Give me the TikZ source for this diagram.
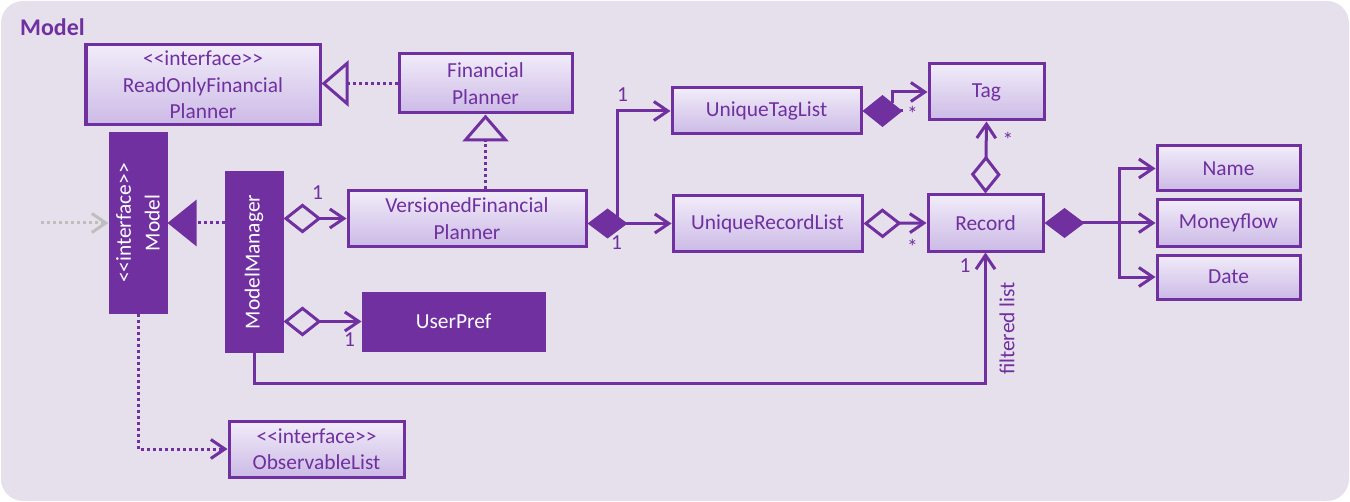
\documentclass[tikz,border=0pt]{standalone}
\usepackage{fontspec}
\setmainfont{Carlito}[Ligatures=TeXOff]
\usepackage{tikz}
\usetikzlibrary{arrows.meta, positioning, calc}
\definecolor{umlpurple}{RGB}{112,48,160}
\definecolor{panel}{RGB}{230,224,236}
\definecolor{boxtop}{RGB}{241,236,249}
\definecolor{boxbottom}{RGB}{204,186,230}
\definecolor{incoming}{RGB}{190,190,190}
\tikzset{
    umlclass/.style = {
        draw           = umlpurple,
        line width     = 3bp,
        top color      = boxtop,
        bottom color   = boxbottom,
        text           = umlpurple,
        align          = center,
        inner sep      = 0pt,
        font           = \fontsize{21.5}{26.5}\selectfont,
    },
    umldark/.style = {
        draw           = umlpurple,
        fill           = umlpurple,
        line width     = 3bp,
        inner sep      = 0pt,
    },
    darktext/.style = {
        text           = white,
        align          = center,
        inner sep      = 0pt,
        font           = \fontsize{21.5}{29}\selectfont,
    },
    mult/.style = {
        text           = umlpurple,
        inner sep      = 0pt,
        font           = \fontsize{21.5}{26.5}\selectfont,
    },
    link/.style    = {draw = umlpurple, line width = 3bp},
    realize/.style = {dash pattern = on 3bp off 3bp},
    barb/.style    = {arrows = {-Straight Barb[length=14bp, width=19bp]}},
    hasa/.style    = {arrows = {Diamond[open, length=38bp, width=30bp]-Straight Barb[length=14bp, width=19bp]}},
    owns/.style    = {arrows = {Diamond[length=40bp, width=30bp]-Straight Barb[length=14bp, width=19bp]}},
}

\begin{document}
\begin{tikzpicture}[x=1bp, y=-1bp]
    \useasboundingbox (0,0) rectangle (1350,502);
    \fill [panel, rounded corners=22bp] (1,1) rectangle (1349,501);
    \node (title) [anchor=west, text=umlpurple, inner sep=0pt, font=\bfseries\fontsize{24}{28}\selectfont] at (20,27) {Model};

    % classes
    \node (RO) [umlclass, minimum width=234bp, minimum height=80bp] at (203,85) {<<interface>>\\ReadOnlyFinancial\\Planner};
    \node (FP) [umlclass, minimum width=173bp, minimum height=59bp] at (485.5,83.5) {Financial\\Planner};
    \node (VFP) [umlclass, minimum width=238bp, minimum height=55bp] at (467,218.5) {VersionedFinancial\\Planner};
    \node (Model) [umldark, minimum width=56bp, minimum height=178bp,
        label={[darktext, rotate=90]center:{<<interface>>\\Model}}] at (138,223) {};
    \node (MM) [umldark, minimum width=56bp, minimum height=178bp,
        label={[darktext, rotate=90]center:ModelManager}] at (254,262) {};
    \node (UP) [umldark, minimum width=181bp, minimum height=57bp, text=white,
        font=\fontsize{21.5}{26.5}\selectfont] at (453.5,321.5) {UserPref};
    \node (OL) [umlclass, minimum width=175bp, minimum height=56bp] at (316.5,449) {<<interface>>\\ObservableList};
    \node (UTL) [umlclass, minimum width=189bp, minimum height=46bp] at (766.5,111) {UniqueTagList};
    \node (URL) [umlclass, minimum width=189bp, minimum height=55bp] at (767.5,223.5) {UniqueRecordList};
    \node (Tag) [umlclass, minimum width=115bp, minimum height=56bp] at (986.5,92) {Tag};
    \node (Record) [umlclass, minimum width=115bp, minimum height=56bp] at (985.5,223) {Record};
    \node (Money) [umlclass, minimum width=143bp, minimum height=46bp] at (1228.5,223) {Moneyflow};
    \node (Name) [umlclass, minimum width=143bp, minimum height=45bp, above=6bp of Money] {Name};
    \node (Date) [umlclass, minimum width=143bp, minimum height=44bp, below=6bp of Money] {Date};

    % free ends
    \coordinate (entry) at (41,223);
    \coordinate (split) at ($(VFP.east |- URL.west)+(30,0)$);
    \coordinate (tagsplit) at ($(UTL.east)+(40,0)$);
    \coordinate (fieldsplit) at ($(Record.east)+(75,0)$);

    % realizations
    \draw [link, realize, arrows={-Triangle[open, length=27bp, width=46bp]}] (FP.west) -- (FP.west -| RO.east);
    \draw [link, realize, arrows={-Triangle[open, length=27bp, width=46bp]}] (VFP.north -| FP.south) -- (FP.south);
    \draw [link, realize, arrows={-Triangle[length=29bp, width=46bp]}] (MM.west |- Model.east) -- (Model.east);
    \draw [incoming, line width=3bp, realize, barb] (entry) -- (Model.west);
    \draw [link, realize, barb] (Model.south) |- (OL.west);

    % associations
    \draw [link, hasa] (MM.east |- VFP.west) -- (VFP.west);
    \draw [link, hasa] (MM.east |- UP.west) -- (UP.west);
    \draw [link, barb] (MM.south) -- ++(0,31) -| (Record.south);
    \draw [link, barb] (split) |- (UTL.west);
    \draw [link, owns] (VFP.east |- URL.west) -- (URL.west);
    \draw [link, arrows={-Diamond[length=40bp, width=32bp]}] (tagsplit) -- (UTL.east);
    \draw [link, barb] ($(UTL.east)+(30,-8)$) |- (Tag.west);
    \draw [link, hasa] (URL.east) -- (Record.west);
    \draw [link, hasa] (Record.north) -- (Tag.south);
    \draw [link, owns] (Record.east) -- (Money.west);
    \draw [link, barb] (fieldsplit) |- (Name.west);
    \draw [link, barb] (fieldsplit) |- (Date.west);

    % multiplicities
    \node (mVFP) [mult] at ($(VFP.west)+(-29,-26)$) {1};
    \node (mUTL) [mult] at ($(UTL.west)+(-48,-16)$) {1};
    \node (mURL) [mult] at ($(URL.west)+(-55,19)$) {1};
    \node (mTag) [mult] at ($(Tag.west)+(-15,22)$) {*};
    \node (mTagb) [mult] at ($(Tag.south)+(21.5,18)$) {*};
    \node (mRec) [mult] at ($(Record.west)+(-14,24)$) {*};
    \node (mRecb) [mult] at ($(Record.south)+(-20.5,13)$) {1};
    \node (mUP) [mult] at ($(UP.west)+(-12,18.5)$) {1};
    \node (filtered) [mult, rotate=90] at ($(Record.south)+(21.5,76)$) {filtered list};
\end{tikzpicture}
\end{document}
